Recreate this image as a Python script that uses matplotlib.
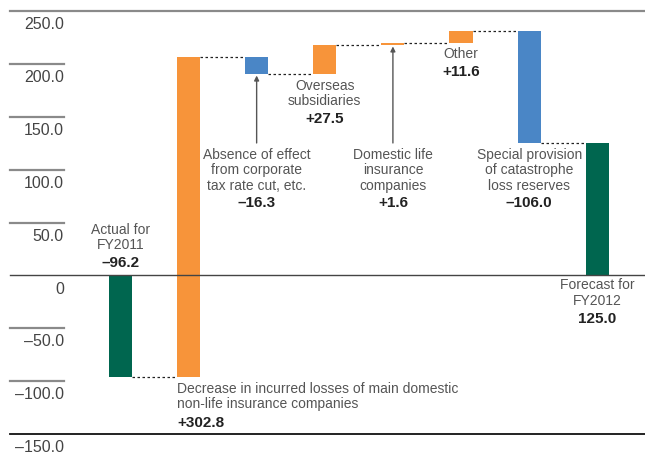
import numpy as np
import matplotlib
matplotlib.use("Agg")
import matplotlib.pyplot as plt
from matplotlib.transforms import blended_transform_factory

plt.rcParams['font.family'] = ['Liberation Sans', 'DejaVu Sans']

# データ
labels = ["Actual for\nFY2011",
          "Decrease in incurred losses of main domestic\nnon-life insurance companies",
          "Absence of effect\nfrom corporate\ntax rate cut, etc.",
          "Overseas\nsubsidiaries",
          "Domestic life\ninsurance\ncompanies",
          "Other",
          "Special provision\nof catastrophe\nloss reserves",
          "Forecast for\nFY2012"]
values = [-96.2, 302.8, -16.3, 27.5, 1.6, 11.6, -106.0, 125.0]
value_text = ["\u201396.2", "+302.8", "\u201316.3", "+27.5", "+1.6", "+11.6", "\u2013106.0", "125.0"]
kinds = ["total", "up", "down", "up", "up", "up", "down", "total"]
yticks = [250, 200, 150, 100, 50, 0, -50, -100, -150]
ytick_labels = ["250.0", "200.0", "150.0", "100.0", "50.0", "0", "\u201350.0", "\u2013100.0", "\u2013150.0"]

colors = {"total": "#00664f", "up": "#f7943a", "down": "#4a86c6"}

fig = plt.figure(figsize=(6.45, 4.54), dpi=100)
ax = fig.add_axes([10/645, 20/454, 635/645, 423/454])
ax.set_xlim(-1.62, 7.70)
ax.set_ylim(-150, 250)
ax.axis('off')

# バーの計算
x = np.arange(len(values))
bottoms, tops = [], []
level = 0.0
for v, k in zip(values, kinds):
    if k == "total":
        b, t = min(0, v), max(0, v)
        level = v
    else:
        start, level = level, level + v
        b, t = min(start, level), max(start, level)
    bottoms.append(b)
    tops.append(t)
bottoms = np.array(bottoms)
tops = np.array(tops)
w = 0.34
ax.bar(x, tops - bottoms, bottom=bottoms, width=w,
       color=[colors[k] for k in kinds], zorder=3)

# 点線のつなぎ
level = 0.0
levels = []
for v, k in zip(values, kinds):
    level = v if k == "total" else level + v
    levels.append(level)
for i in range(len(values) - 1):
    ax.plot([x[i] + w/2, x[i+1] - w/2], [levels[i], levels[i]],
            ls=(0, (2, 2)), color='#222222', lw=0.9, zorder=2)

# 軸線
tr = blended_transform_factory(ax.transAxes, ax.transData)
for t in yticks:
    if t == 250:
        ax.plot([0, 1], [t, t], transform=tr, color='#8a8a8a', lw=1.6, clip_on=False)
    elif t == 0:
        ax.plot([0, 1], [t, t], transform=tr, color='#444444', lw=1.0, clip_on=False, zorder=4)
    elif t == -150:
        ax.plot([0, 1], [t, t], transform=tr, color='#111111', lw=1.3, clip_on=False)
    else:
        ax.plot([0, 0.085], [t, t], transform=tr, color='#8a8a8a', lw=1.6, clip_on=False)
for t, s in zip(yticks, ytick_labels):
    ax.text(0.085, t - 13, s, transform=tr, ha='right', va='center',
            fontsize=11.5, color='#444444')

# ラベル
desc_y = [35.8, -114.5, 99.2, 172.0, 99.2, 209.3, 99.2, -16.7]
val_y = [11.7, -139.6, 68.4, 147.9, 68.4, 192.3, 68.4, -41.3]
for i in range(len(values)):
    if i == 1:
        xx, ha = x[i] - w/2, 'left'
    else:
        xx, ha = x[i], 'center'
    ax.text(xx, desc_y[i], labels[i], ha=ha, va='center', fontsize=10,
            color='#555555', linespacing=1.1, multialignment=ha)
    ax.text(xx, val_y[i], value_text[i], ha=ha, va='center', fontsize=11,
            fontweight='bold', color='#222222')

# 矢印
for i in [2, 4]:
    ax.annotate("", xy=(x[i], bottoms[i]), xytext=(x[i], 125.2),
                arrowprops=dict(arrowstyle='-|>', color='#555555', lw=1.0,
                                mutation_scale=7, shrinkA=0, shrinkB=1))

fig.savefig("out.png", dpi=100)
